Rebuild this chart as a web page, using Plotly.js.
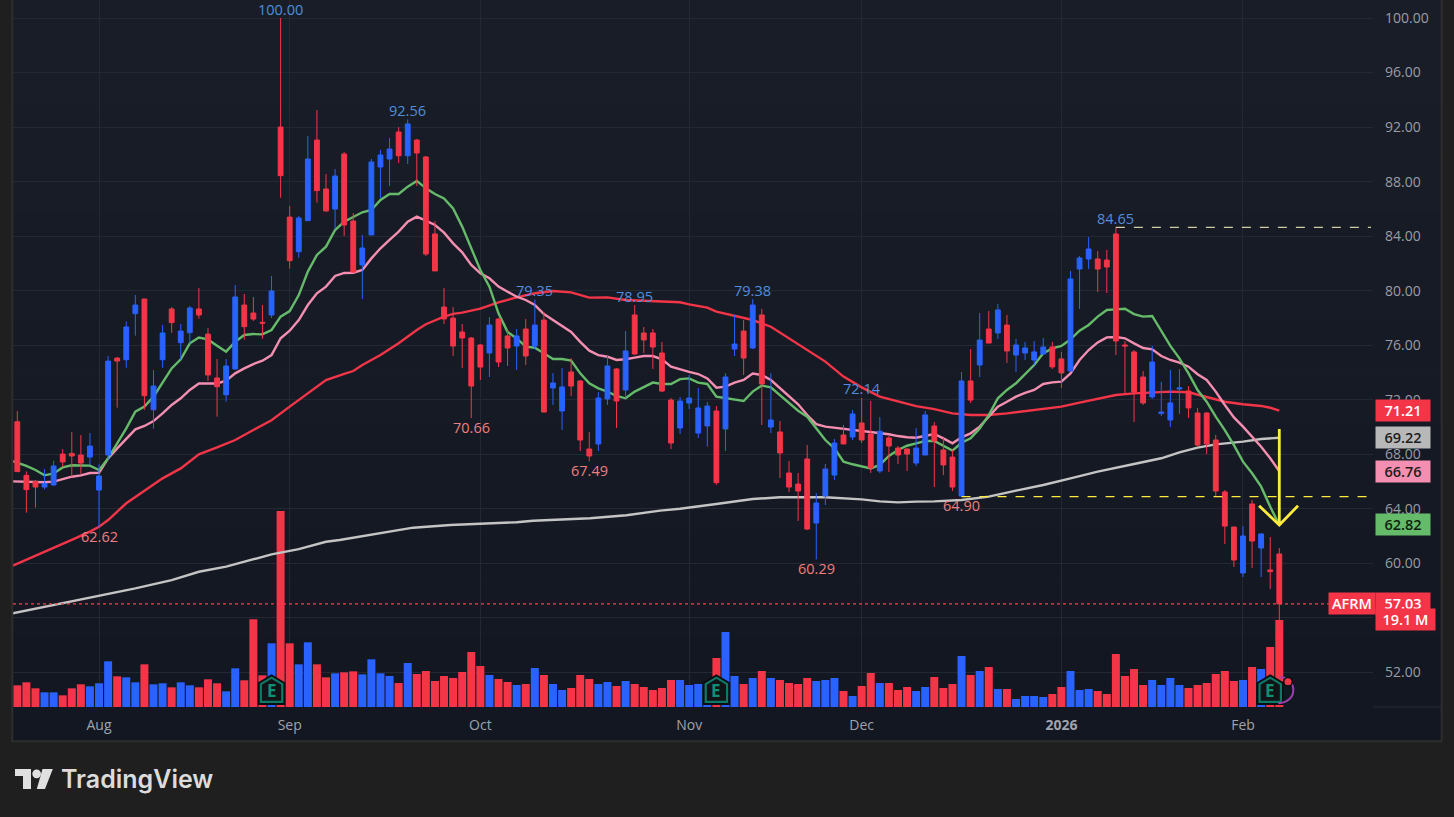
<!DOCTYPE html>
<html><head><meta charset="utf-8">
<style>html,body{margin:0;padding:0;background:#1f1f1f;overflow:hidden}#c{width:1454px;height:817px}</style>
<script src="https://cdn.plot.ly/plotly-3.0.1.min.js"></script>
</head><body><div id="c"></div>
<script>
// ===== Data =====
const opens=[70.39,66.46,66.02,65.60,65.75,68.02,68.07,67.95,67.80,65.38,67.95,75.06,74.94,78.32,79.39,71.27,74.94,78.66,76.19,76.92,78.66,76.82,73.60,72.37,74.26,78.95,78.36,77.68,78.22,92.00,85.40,82.86,85.14,91.05,87.46,85.99,90.03,85.11,81.89,84.09,89.07,89.66,91.64,89.90,91.05,89.81,84.16,78.80,77.99,76.97,76.53,76.02,75.43,77.92,76.68,75.94,77.19,75.94,77.85,72.87,71.18,74.04,73.38,68.39,68.76,72.06,74.26,72.72,78.22,76.90,76.90,75.43,71.98,69.93,71.76,69.56,70.08,71.18,69.86,75.72,77.04,75.80,78.22,70.00,69.64,66.63,65.82,67.66,62.96,64.94,66.48,69.42,69.27,70.30,69.49,66.78,69.20,68.46,68.39,67.36,67.95,70.08,68.32,67.80,64.94,73.38,74.55,77.19,76.90,77.48,75.28,75.43,74.92,75.36,75.87,75.00,74.11,81.59,82.33,82.33,82.25,84.16,76.02,75.51,73.67,72.21,71.00,70.52,72.79,72.65,71.03,71.03,69.05,65.24,62.67,59.30,64.36,61.13,59.52,60.69];
const highs=[71.18,66.75,66.12,66.92,67.53,68.39,69.64,69.42,69.56,67.27,75.21,75.14,77.75,79.68,79.39,74.18,77.48,78.80,77.56,78.88,80.20,77.26,74.99,74.99,80.42,79.76,79.54,78.95,81.08,100.00,86.21,85.48,91.35,93.25,88.56,88.93,90.17,85.70,84.09,89.66,90.32,91.20,92.00,92.56,91.13,89.88,85.11,80.20,78.80,77.56,76.61,76.09,78.07,77.99,77.12,77.19,77.92,79.35,78.46,73.96,74.33,75.06,73.45,69.64,72.57,75.28,74.33,77.05,78.95,77.34,77.19,76.24,72.13,72.20,73.82,72.86,71.84,71.54,73.96,78.22,77.85,79.38,78.66,73.96,70.44,67.51,66.63,68.68,65.16,67.29,69.12,70.15,71.25,72.14,71.91,70.74,69.34,68.61,68.46,69.93,71.18,70.37,69.20,68.32,74.04,75.72,78.37,78.51,79.03,78.22,76.46,76.24,76.31,76.53,76.24,75.51,81.45,82.55,83.94,82.91,82.99,84.65,76.31,75.65,74.11,75.95,73.31,74.19,74.26,73.01,71.40,71.10,69.42,65.38,62.67,62.74,64.65,62.23,61.94,61.13];
const lows=[66.73,63.72,64.09,65.43,65.70,67.09,66.36,66.56,67.21,62.62,67.63,71.42,74.35,76.70,71.27,69.88,74.35,76.92,74.94,76.12,77.95,73.38,70.76,71.86,74.18,76.41,77.78,76.48,78.00,86.82,81.62,82.42,85.14,86.46,85.80,84.52,84.01,81.32,79.39,84.09,86.80,87.68,89.37,89.29,87.68,82.55,81.45,77.56,75.21,74.33,70.66,73.45,73.67,74.40,74.48,74.18,74.55,75.72,71.10,71.62,69.78,72.28,68.24,67.49,68.24,71.62,69.93,72.13,75.28,75.43,74.26,72.57,68.39,69.49,71.32,69.20,68.56,65.77,68.24,75.21,73.82,75.72,70.15,69.56,66.26,65.24,63.11,62.45,60.29,64.28,66.12,68.76,69.05,68.83,66.63,66.63,66.70,67.29,66.78,67.14,67.95,65.60,66.48,65.31,64.90,71.76,73.67,76.16,76.46,74.70,74.04,74.92,74.55,75.29,74.26,72.87,74.11,78.66,81.59,79.91,79.83,75.29,72.43,70.37,71.62,72.06,70.81,70.00,70.96,70.67,68.54,68.03,64.94,61.42,59.74,59.00,59.66,59.00,58.12,55.50];
const closes=[66.73,65.41,65.60,65.85,67.14,67.44,67.88,67.36,68.61,66.41,74.84,74.84,77.34,78.95,72.30,73.01,76.90,77.66,77.04,78.73,78.22,73.82,72.96,74.48,79.54,77.36,77.92,77.62,79.98,88.44,82.20,85.33,89.66,87.34,85.85,88.41,84.82,81.37,83.13,89.44,89.95,90.39,89.90,92.23,90.10,82.69,81.45,77.93,75.94,76.53,73.01,74.40,77.48,74.77,75.80,76.68,75.21,77.48,71.10,73.23,72.94,73.01,69.05,67.88,72.13,74.48,71.91,75.58,75.36,76.39,75.87,72.64,68.83,71.91,72.13,71.40,71.54,65.92,73.67,76.09,75.06,78.95,73.16,70.52,68.10,65.60,65.31,62.52,64.43,66.92,68.83,68.76,70.96,69.05,67.00,69.69,68.61,67.95,68.02,68.46,70.89,68.98,67.22,65.60,73.38,71.98,76.38,76.16,78.59,75.58,76.02,75.80,75.51,75.87,74.41,73.97,80.86,82.40,83.06,81.59,81.74,76.31,75.95,72.57,71.77,74.77,71.10,71.77,72.87,71.40,68.68,68.76,65.31,62.74,60.25,62.01,61.64,62.16,59.40,57.03];
const volumesM=[4.76,5.42,4.10,3.22,3.22,2.56,4.10,4.98,4.54,5.20,10.03,6.73,6.51,5.42,9.37,4.98,5.20,4.32,5.42,4.76,4.32,6.08,5.20,3.44,8.49,5.86,19.25,6.95,13.98,43.00,13.98,9.37,14.20,9.37,6.51,7.39,7.61,7.83,7.17,10.47,7.39,6.80,5.27,9.66,7.25,7.90,5.71,6.81,6.37,7.69,12.08,9.00,7.03,6.15,5.49,4.83,5.05,8.56,7.03,5.05,3.73,4.17,7.03,6.15,5.05,5.49,4.61,5.71,5.05,4.39,3.73,4.17,5.93,5.93,4.83,5.05,4.60,10.76,16.47,6.81,5.05,6.37,7.91,6.37,5.93,5.27,5.05,6.37,5.71,5.93,6.37,3.51,2.42,4.61,7.47,5.27,5.27,3.73,4.39,3.51,4.39,6.59,4.17,5.05,11.20,7.03,7.91,8.78,3.95,3.95,1.76,2.42,2.42,2.20,2.85,4.39,7.91,3.73,3.95,3.51,2.85,11.64,6.81,8.34,4.83,5.93,4.83,6.37,4.83,4.17,4.83,5.27,7.25,7.91,5.71,5.93,8.78,8.34,13.18,19.10];
const greenMA=[67.51,67.15,66.85,66.46,66.60,67.04,67.20,67.20,67.17,66.85,67.70,68.80,69.90,71.13,71.50,72.23,73.30,74.30,74.97,76.14,76.56,76.43,75.97,75.53,76.26,76.75,76.82,76.80,77.12,78.10,78.51,79.68,81.40,82.62,83.23,84.45,85.06,85.43,85.75,85.92,86.65,87.09,87.09,87.63,88.05,87.51,87.09,86.77,86.04,84.70,83.11,81.52,80.30,78.34,76.98,76.50,75.90,75.82,75.41,74.99,74.99,74.87,73.94,73.21,72.84,72.60,72.28,72.11,72.60,72.96,73.26,73.16,73.16,73.52,73.57,73.26,73.16,72.23,72.11,72.03,71.91,72.60,73.04,72.91,72.35,71.74,71.20,70.76,69.90,69.05,68.44,67.46,67.27,67.14,66.97,67.22,67.88,68.32,68.63,68.81,68.98,68.98,68.63,68.27,68.85,69.17,69.90,70.88,72.11,72.72,73.21,73.85,74.55,75.41,75.77,75.95,76.43,77.07,77.49,78.10,78.59,78.63,78.68,78.29,78.10,78.15,77.00,75.95,75.04,73.94,72.72,71.86,70.76,69.78,68.67,67.46,66.61,65.63,64.16,62.82];
const pinkMA=[66.02,65.97,65.95,65.95,66.00,66.19,66.36,66.46,66.63,66.65,67.70,68.44,69.17,69.83,70.08,70.44,71.00,71.62,72.11,72.72,73.20,73.20,73.20,73.40,73.94,74.30,74.62,74.87,75.28,76.51,77.07,77.85,78.95,79.81,80.30,81.08,81.30,81.32,81.52,82.37,83.11,83.72,84.33,85.06,85.43,85.14,84.82,84.26,83.47,82.81,81.89,81.27,80.91,80.30,79.90,79.56,79.32,78.95,78.29,77.85,77.44,76.98,76.25,75.60,75.28,75.16,74.92,74.97,75.09,75.21,75.21,74.97,74.43,74.23,74.05,73.89,73.57,72.89,72.96,73.26,73.45,73.92,73.82,73.45,72.84,72.23,71.67,70.88,70.22,70.03,69.95,69.90,69.78,69.71,69.61,69.54,69.47,69.34,69.25,69.22,69.34,69.49,69.17,68.81,69.25,69.54,70.03,70.76,71.50,71.86,72.23,72.50,72.72,73.16,73.28,73.33,73.94,74.92,75.65,76.21,76.58,76.60,76.51,76.14,75.80,75.70,75.21,74.92,74.72,74.43,73.87,73.45,72.60,71.62,70.71,70.03,69.30,68.56,67.71,66.76];
const redMAIdx=[-0.5,2,4,6,8,9,10,12,14,16,18,20,22,24,26,28,30,32,34,36,37,38,40,42,44,45,47,48,49,51,53,55,57,59,61,63,65,67,69,71,73,74,76,77,79,81,83,85,87,89,91,93,95,97,99,101,103,105,107,109,111,113,115,117,119,121,123,125,127,129,131,133,135,137,138,139];
const redMA=[59.83,60.54,61.15,61.72,62.33,62.69,63.18,64.41,65.33,66.24,66.97,68.00,68.51,69.05,69.78,70.50,71.50,72.47,73.45,73.90,74.11,74.55,75.28,76.14,77.12,77.54,78.10,78.30,78.39,78.68,79.15,79.51,79.81,79.98,79.88,79.49,79.51,79.32,79.27,79.25,79.15,79.00,78.76,78.46,78.15,77.85,77.36,76.50,75.65,74.80,73.70,72.91,72.23,71.86,71.54,71.32,71.00,70.88,70.88,71.00,71.18,71.37,71.50,71.79,72.06,72.35,72.47,72.52,72.60,72.55,72.18,71.86,71.67,71.55,71.42,71.21];
const greyMAIdx=[-0.5,4,7,9,13,17,20,23,26,28,31,34,35.5,40,43.6,47.7,55,56.8,63.1,67.1,70.8,73,76,77,81,84,89,93,95,97,99,101,104,107,110,113,116,119,123,126,128,130,132,135,137,139];
const greyMA=[56.34,56.95,57.32,57.58,58.17,58.78,59.39,59.76,60.32,60.66,61.05,61.59,61.72,62.21,62.62,62.82,63.02,63.13,63.31,63.53,63.87,64.01,64.24,64.36,64.72,64.85,64.85,64.70,64.55,64.48,64.53,64.55,64.65,64.90,65.34,65.75,66.24,66.73,67.29,67.71,68.15,68.49,68.73,68.93,69.12,69.22];
const monthTickIdx=[9,30,51,74,93,115,135];
const monthTickText=['Aug','Sep','Oct','Nov','Dec','<b>2026</b>','Feb'];
const priceTicks=[52,56,60,64,68,72,76,80,84,88,92,96,100];
const highLabelIdx=[29,43,57,68,81,93,121];
const lowLabelIdx=[9,50,63,88,104];
const lastPrice=57.03, lastVolume=19.1, greyLast=69.22, pinkLast=66.76, redLast=71.21, greenLast=62.82;
const resistance=84.65, support=64.90;
const earningsIdx=[28,77,138];
const arrowX=[139,139,136.77,139,141.06], arrowY=[69.86,62.82,64.23,62.82,64.23];

// ===== Styles =====
const UP='#2962ff', DOWN='#f43548', GREEN='#66bb6a', PINK='#f48fb1', GREY='#c4c4c4', YEL='#ffeb3b';
const FONT='"Open Sans","Noto Sans",sans-serif';
const W=1454,H=817,L=13,R=1441,B=741,PX0=13,PX1=1373,PY1=707;
const fx=x=>(x-L)/(R-L), fy=y=>1-y/B;
const idx=opens.map((_,i)=>i);
const maIdx=idx.map(i=>i===0?-0.5:i);
const volColors=opens.map((o,i)=>closes[i]>=o?UP:DOWN);
const xRange=[-0.475,149.32], yRange=[49.47,101.32], vRange=[0,155.2];
const MAW=2.4;

const traces=[
 {type:'bar',x:idx,y:volumesM,width:0.88,marker:{color:volColors,line:{width:0}},xaxis:'x',yaxis:'y',hoverinfo:'skip',showlegend:false},
 {type:'scatter',mode:'lines',x:redMAIdx,y:redMA,line:{color:DOWN,width:MAW},xaxis:'x',yaxis:'y2',hoverinfo:'skip',showlegend:false},
 {type:'scatter',mode:'lines',x:greyMAIdx,y:greyMA,line:{color:GREY,width:MAW},xaxis:'x',yaxis:'y2',hoverinfo:'skip',showlegend:false},
 {type:'scatter',mode:'lines',x:maIdx,y:pinkMA,line:{color:PINK,width:MAW},xaxis:'x',yaxis:'y2',hoverinfo:'skip',showlegend:false},
 {type:'scatter',mode:'lines',x:maIdx,y:greenMA,line:{color:GREEN,width:MAW},xaxis:'x',yaxis:'y2',hoverinfo:'skip',showlegend:false},
 {type:'candlestick',x:idx,open:opens,high:highs,low:lows,close:closes,whiskerwidth:0,
  increasing:{line:{color:UP,width:1},fillcolor:UP},decreasing:{line:{color:DOWN,width:1},fillcolor:DOWN},
  xaxis:'x',yaxis:'y3',hoverinfo:'skip',showlegend:false},
 {type:'scatter',mode:'lines',x:arrowX,y:arrowY,line:{color:YEL,width:2.8},xaxis:'x',yaxis:'y3',hoverinfo:'skip',showlegend:false}
];

// ===== Shapes =====
const shapes=[];
const bands=14;
for(let b=0;b<bands;b++){
  const t=b/(bands-1);
  const c=[0x19-6*t,0x1d-6*t,0x28-6*t].map(v=>Math.round(v));
  shapes.push({type:'rect',xref:'paper',yref:'paper',x0:0,x1:1,y0:fy(B*b/bands),y1:fy(B*(b+1)/bands),fillcolor:`rgb(${c})`,line:{width:0},layer:'below'});
}
shapes.push({type:'rect',xref:'paper',yref:'paper',x0:-0.0005,x1:1.0005,y0:-0.0005,y1:1.002,fillcolor:'rgba(0,0,0,0)',line:{color:'#2e2e2e',width:2},layer:'above'});
shapes.push({type:'line',xref:'paper',yref:'paper',x0:fx(PX1),x1:1,y0:fy(PY1),y1:fy(PY1),line:{color:'#262a35',width:1},layer:'below'});
// level lines
shapes.push({type:'line',xref:'x',yref:'y2',x0:-0.475,x1:149.32,y0:lastPrice,y1:lastPrice,line:{color:'#ff3a4e',width:1.3,dash:'dot'},layer:'above'});
shapes.push({type:'line',xref:'x',yref:'y2',x0:104,x1:149.32,y0:support,y1:support,line:{color:YEL,width:1.3,dash:'dash'},layer:'above'});
shapes.push({type:'line',xref:'x',yref:'y2',x0:121,x1:149.1,y0:resistance,y1:resistance,line:{color:'#fff9c4',width:1,dash:'dash'},layer:'above'});
// earnings badges
const housePath=s=>`M ${-11.5*s} ${-12.5*s} L ${-11.5*s} ${6.5*s} L 0 ${13.5*s} L ${11.5*s} ${6.5*s} L ${11.5*s} ${-12.5*s} Z`;
earningsIdx.forEach(i=>{
  const base={type:'path',xref:'x',yref:'y2',xsizemode:'pixel',ysizemode:'pixel',xanchor:i,yanchor:50.7,layer:'above'};
  shapes.push(Object.assign({},base,{path:housePath(1.1),fillcolor:'#0b0d10',line:{color:'#0b0d10',width:2}}));
  shapes.push(Object.assign({},base,{path:housePath(0.93),fillcolor:'#111316',line:{color:'#0c7a66',width:2.2}}));
});
shapes.push({type:'path',xref:'x',yref:'y2',xsizemode:'pixel',ysizemode:'pixel',xanchor:139,yanchor:50.7,layer:'above',
  path:'M 1 13 C 9 13 14 7 14 0 C 14 -7 8 -13 -1 -13',line:{color:'#9c3fb0',width:2}});
shapes.push({type:'circle',xref:'x',yref:'y2',xsizemode:'pixel',ysizemode:'pixel',xanchor:139.96,yanchor:51.32,x0:-5,x1:5,y0:-5,y1:5,fillcolor:'#0b0d12',line:{width:0},layer:'above'});
shapes.push({type:'circle',xref:'x',yref:'y2',xsizemode:'pixel',ysizemode:'pixel',xanchor:139.96,yanchor:51.32,x0:-3.5,x1:3.5,y0:-3.5,y1:3.5,fillcolor:DOWN,line:{width:0},layer:'above'});
// logo
const logoPoly=p=>'M '+p.map(q=>`${fx(q[0])} ${fy(q[1])}`).join(' L ')+' Z';
shapes.push({type:'path',xref:'paper',yref:'paper',path:logoPoly([[15,769],[31,769],[31,789],[23,789],[23,776],[15,776]]),fillcolor:'#e0e0e0',line:{width:0},layer:'above'});
shapes.push({type:'path',xref:'paper',yref:'paper',path:logoPoly([[42.5,769],[52.8,769],[45,789],[36.8,789]]),fillcolor:'#e0e0e0',line:{width:0},layer:'above'});
shapes.push({type:'circle',xref:'paper',yref:'paper',x0:fx(32.3),x1:fx(41),y0:fy(769.5),y1:fy(778.2),fillcolor:'#e0e0e0',line:{width:0},layer:'above'});

// ===== Annotations =====
const ann=[];
highLabelIdx.forEach(i=>ann.push({xref:'x',yref:'y2',x:i,y:highs[i],text:highs[i].toFixed(2),showarrow:false,xanchor:'center',yanchor:'middle',yshift:9,font:{family:FONT,size:14.5,color:'#4f8fdc'}}));
lowLabelIdx.forEach(i=>ann.push({xref:'x',yref:'y2',x:i,y:lows[i],text:lows[i].toFixed(2),showarrow:false,xanchor:'center',yanchor:'middle',yshift:-9,font:{family:FONT,size:14.5,color:'#ef7f7f'}}));
const box=(text,val,yref,bg,fg,px,w)=>ann.push({xref:'paper',x:fx(px),xanchor:'left',yref:yref,y:val,yanchor:'middle',text:text,showarrow:false,width:w,height:17,borderpad:2,bgcolor:bg,align:'center',valign:'middle',font:{family:FONT,size:14.5,color:fg,weight:600}});
box(redLast.toFixed(2),redLast,'y2',DOWN,'#ffffff',1375,50);
box(greyLast.toFixed(2),greyLast,'y2','#b8b8b8','#1d1d1d',1375,50);
box(pinkLast.toFixed(2),pinkLast,'y2',PINK,'#1d1d1d',1375,50);
box(greenLast.toFixed(2),greenLast,'y2',GREEN,'#10210f',1375,50);
box('AFRM',lastPrice,'y2',DOWN,'#ffffff',1328,42);
box(lastPrice.toFixed(2),lastPrice,'y2',DOWN,'#ffffff',1375,50);
box(lastVolume.toFixed(1)+' M',lastVolume,'y',DOWN,'#ffffff',1375,55);
earningsIdx.forEach(i=>ann.push({xref:'x',yref:'y2',x:i,y:50.7,text:'E',showarrow:false,xanchor:'center',yanchor:'middle',font:{family:FONT,size:17,color:'#0e8f76',weight:700}}));
ann.push({xref:'paper',yref:'paper',x:fx(59),xanchor:'left',y:fy(779),yanchor:'middle',text:'TradingView',showarrow:false,font:{family:'Inter,"Open Sans",sans-serif',size:25,color:'#dcdcdc',weight:600}});

const layout={
 width:W,height:H,margin:{l:L,r:W-R,t:0,b:H-B,pad:0,autoexpand:false},
 paper_bgcolor:'#1f1f1f',plot_bgcolor:'rgba(0,0,0,0)',showlegend:false,hovermode:false,dragmode:false,
 barmode:'overlay',boxmode:'overlay',boxgap:0.24,
 xaxis:{domain:[0,fx(PX1)],range:xRange,type:'linear',fixedrange:true,tickmode:'array',tickvals:monthTickIdx,ticktext:monthTickText,
   showgrid:true,gridcolor:'#242833',gridwidth:1,zeroline:false,showline:false,ticks:'',ticklabelstandoff:8,
   tickfont:{family:FONT,size:14,color:'#a0a3ad'},rangeslider:{visible:false}},
 yaxis:{domain:[1-PY1/B,1],range:vRange,fixedrange:true,visible:false,showgrid:false,zeroline:false},
 yaxis2:{domain:[1-PY1/B,1],overlaying:'y',side:'right',anchor:'x',range:yRange,fixedrange:true,tickmode:'array',tickvals:priceTicks,ticktext:priceTicks.map(v=>v.toFixed(2)),
   showgrid:true,gridcolor:'#242833',gridwidth:1,zeroline:false,showline:false,ticks:'',ticklabelstandoff:11,
   tickfont:{family:FONT,size:14,color:'#9a9da6',weight:500}},
 yaxis3:{domain:[1-PY1/B,1],overlaying:'y',side:'right',anchor:'x',range:yRange,fixedrange:true,visible:false,showgrid:false,zeroline:false},
 shapes:shapes,annotations:ann
};
Plotly.newPlot('c',traces,layout,{displayModeBar:false,staticPlot:true,responsive:false});
</script></body></html>
